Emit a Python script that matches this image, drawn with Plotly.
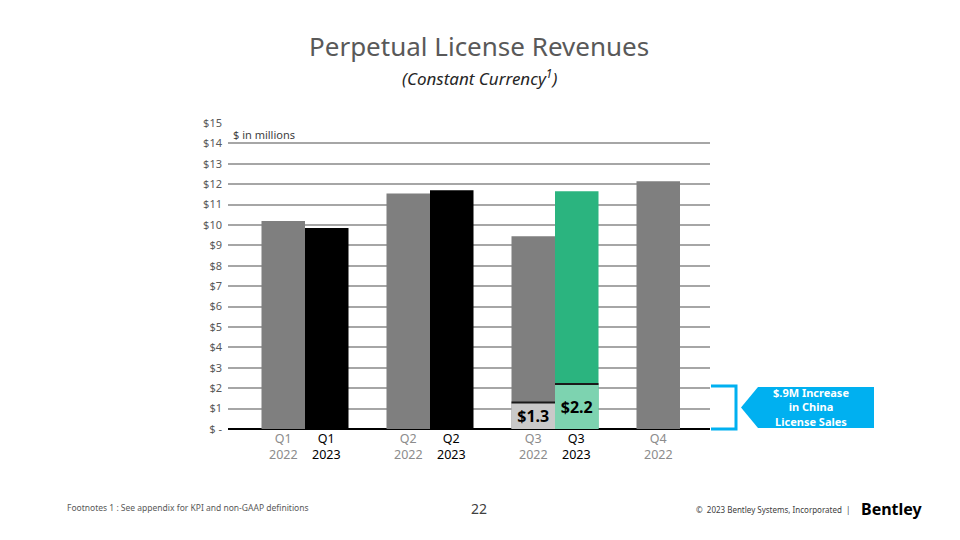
import plotly.graph_objects as go

quarters = ["Q1", "Q2", "Q3", "Q4"]
rev_2022 = [10.2, 11.55, 9.45, 12.15]
rev_2023 = [9.85, 11.7, 11.65, None]
colors_2022 = ["#7f7f7f", "#7f7f7f", "#7f7f7f", "#7f7f7f"]
colors_2023 = ["#000000", "#000000", "#2bb47f", "#000000"]
china_quarter = "Q3"
china_2022 = 1.3
china_2023 = 2.2
y_ticks = list(range(0, 16))
y_tick_text = ["$ -"] + [f"${v}" for v in range(1, 16)]

FONT = "Noto Sans"
W = 0.348
OFF = 8  # page body margin
FW, FH = 960 - OFF, 540 - OFF
L, T = 228 - OFF, 123 - OFF
R = FW - (710 - OFF)
B = FH - (429 - OFF)
PW = FW - L - R
PH = FH - T - B


def px(x):
    return (x - OFF - L) / PW


def py(y):
    return (FH - B - (y - OFF)) / PH


fig = go.Figure()
fig.add_trace(go.Bar(x=quarters, y=rev_2022, offset=-W, width=W,
                     marker=dict(color=colors_2022, line=dict(width=0)), hoverinfo="skip"))
fig.add_trace(go.Bar(x=quarters, y=rev_2023, offset=0, width=W,
                     marker=dict(color=colors_2023, line=dict(width=0)), hoverinfo="skip"))
for val, off, col in [(china_2022, -W, "#c9c9c9"), (china_2023, 0, "#7dd3b0")]:
    fig.add_trace(go.Bar(x=[china_quarter], y=[val], offset=off, width=W,
                         marker=dict(color=col, line=dict(width=0)),
                         text=[f"${val}"], textposition="inside", insidetextanchor="middle",
                         constraintext="none", textangle=0,
                         textfont=dict(family=FONT, size=16, color="#000000", weight="bold"),
                         hoverinfo="skip"))

qi = quarters.index(china_quarter)
bx0, bx1, by0, by1 = px(711), px(736), py(386), py(429)
ax_tip, ax_n, ax_r, ay_t, ay_b, ay_m = px(741), px(758), px(874), py(387), py(428), py(407.5)
shapes = [
    dict(type="line", xref="x", yref="y", x0=qi - W, x1=qi, y0=china_2022, y1=china_2022,
         line=dict(color="#1a1a1a", width=2)),
    dict(type="line", xref="x", yref="y", x0=qi, x1=qi + W, y0=china_2023, y1=china_2023,
         line=dict(color="#1a1a1a", width=2)),
    dict(type="path", xref="paper", yref="paper",
         path=f"M {bx0} {by0} L {bx1} {by0} L {bx1} {by1} L {bx0} {by1}",
         line=dict(color="#00b0f0", width=3)),
    dict(type="path", xref="paper", yref="paper",
         path=f"M {ax_tip} {ay_m} L {ax_n} {ay_t} L {ax_r} {ay_t} L {ax_r} {ay_b} L {ax_n} {ay_b} Z",
         fillcolor="#00b0f0", line=dict(width=0)),
]

annotations = []
for i, q in enumerate(quarters):
    annotations.append(dict(x=i - W / 2, y=0, xref="x", yref="paper", yanchor="top",
                            text=f"{q}<br>2022", showarrow=False,
                            font=dict(family=FONT, size=12.5, color="#8c8c8c"), yshift=1))
    if rev_2023[i] is not None:
        annotations.append(dict(x=i + W / 2, y=0, xref="x", yref="paper", yanchor="top",
                                text=f"{q}<br>2023", showarrow=False,
                                font=dict(family=FONT, size=12.5, color="#000000"), yshift=1))


def px_ann(text, x, y, size, color, xanchor="center", **kw):
    return dict(text=text, x=px(x), y=py(y), xref="paper", yref="paper",
                xanchor=xanchor, yanchor="middle", showarrow=False,
                font=dict(family=FONT, size=size, color=color, **kw))


annotations += [
    px_ann("Perpetual License Revenues", 479, 46, 26, "#595959"),
    px_ann("<i>(Constant Currency<sup>1</sup>)</i>", 479, 77, 17, "#262626"),
    px_ann("$ in millions", 231, 135, 11, "#404040", xanchor="left"),
    px_ann("<b>$.9M Increase<br>in China<br>License Sales</b>", 811, 407, 11, "white"),
    px_ann("Footnotes 1 : See appendix for KPI and non-GAAP definitions", 65, 507, 8.5,
           "#595959", xanchor="left"),
    px_ann("22", 479, 508, 14, "#404040"),
    px_ann("\u00a9  2023 Bentley Systems, Incorporated  |", 852, 509, 8, "#404040", xanchor="right"),
    px_ann("<b>Bentley</b>", 859, 509, 16, "#000000", xanchor="left"),
]

fig.update_layout(
    width=FW, height=FH,
    margin=dict(l=L, r=R, t=T, b=B, autoexpand=False),
    paper_bgcolor="white", plot_bgcolor="white",
    barmode="overlay", showlegend=False,
    xaxis=dict(type="category", range=[-0.616, 3.24], showticklabels=False,
               showgrid=False, zeroline=False, fixedrange=True, automargin=False),
    yaxis=dict(range=[0, 15], tickvals=y_ticks, ticktext=y_tick_text,
               tickfont=dict(family=FONT, size=11, color="#595959"),
               showgrid=True, gridcolor="#a6a6a6", gridwidth=1.5,
               zeroline=True, zerolinecolor="#000000", zerolinewidth=2,
               ticks="", ticklabelstandoff=5, automargin=False),
    shapes=shapes,
    annotations=annotations,
)

fig.write_html("out.html")
